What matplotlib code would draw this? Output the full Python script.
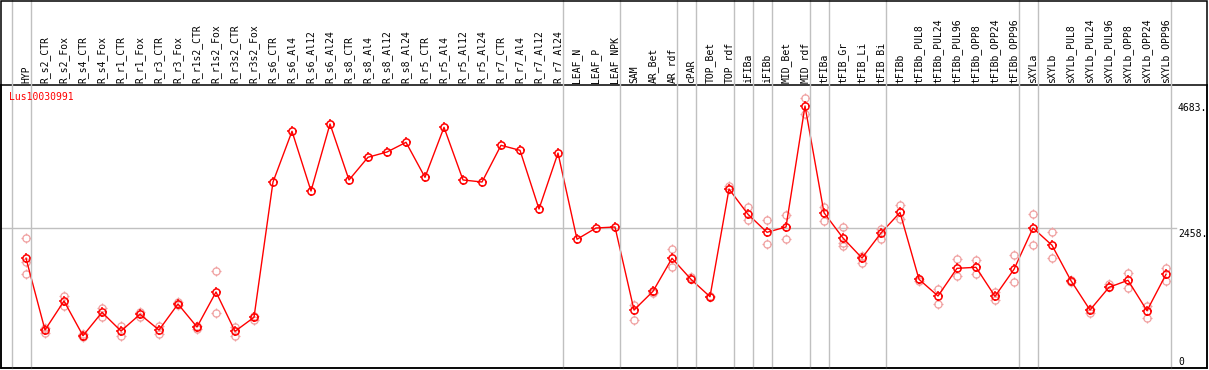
import matplotlib
matplotlib.use("Agg")
import matplotlib.pyplot as plt
from matplotlib.path import Path
from matplotlib.lines import Line2D
from matplotlib.patches import Rectangle
import matplotlib.transforms as mtransforms
import numpy as np

series_name = "Lus10030991"

categories = [
    "HYP", "R_s2_CTR", "R_s2_Fox", "R_s4_CTR", "R_s4_Fox", "R_r1_CTR", "R_r1_Fox",
    "R_r3_CTR", "R_r3_Fox", "R_r1s2_CTR", "R_r1s2_Fox", "R_r3s2_CTR", "R_r3s2_Fox",
    "R_s6_CTR", "R_s6_Al4", "R_s6_Al12", "R_s6_Al24", "R_s8_CTR", "R_s8_Al4",
    "R_s8_Al12", "R_s8_Al24", "R_r5_CTR", "R_r5_Al4", "R_r5_Al12", "R_r5_Al24",
    "R_r7_CTR", "R_r7_Al4", "R_r7_Al12", "R_r7_Al24", "LEAF_N", "LEAF_P", "LEAF_NPK",
    "SAM", "AR_Bet", "AR_rdf", "cPAR", "TOP_Bet", "TOP_rdf", "iFIBa", "iFIBb",
    "MID_Bet", "MID_rdf", "tFIBa", "tFIB_Gr", "tFIB_Li", "tFIB_Bi", "tFIBb",
    "tFIBb_PUL8", "tFIBb_PUL24", "tFIBb_PUL96", "tFIBb_OPP8", "tFIBb_OPP24",
    "tFIBb_OPP96", "sXYLa", "sXYLb", "sXYLb_PUL8", "sXYLb_PUL24", "sXYLb_PUL96",
    "sXYLb_OPP8", "sXYLb_OPP24", "sXYLb_OPP96",
]

mean_values = [
    1923, 657, 1169, 556, 969, 639, 934, 657, 1116, 710, 1328, 634, 881,
    3270, 4166, 3111, 4295, 3306, 3707, 3800, 3971, 3353, 4236, 3306, 3270,
    3918, 3830, 2794, 3782, 2259, 2458, 2476,
    1010, 1340, 1923, 1552, 1245, 3147, 2700, 2382, 2476, 4612, 2728, 2281,
    1928, 2370, 2732, 1552, 1257, 1746, 1764, 1252, 1729, 2458, 2153, 1527,
    1010, 1411, 1535, 998, 1640,
]

replicates = [
    [2276, 1853, 1641], [687, 599], [1263, 1081], [595, 533], [1051, 881],
    [728, 556], [969, 881], [728, 586], [1151, 1098], [728, 680], [1693, 957],
    [715, 546], [904, 833],
    [], [], [], [], [], [], [], [], [], [], [], [], [], [], [], [], [], [], [],
    [1098, 833], [1305, 1330], [2087, 1764], [1588, 1552], [1235, 1255],
    [3194, 3147], [2824, 2594], [2594, 2170], [2682, 2259], [4748, 4471],
    [2829, 2582], [2476, 2188, 2146], [1964, 1840], [2446, 2269], [2864, 2612],
    [1522, 1560], [1386, 1111], [1911, 1610], [1888, 1651], [1328, 1181],
    [1976, 1499], [2711, 2158], [2382, 1923], [1505, 1540], [962, 1020],
    [1464, 1420], [1663, 1393], [1086, 869], [1757, 1527],
]

group_boundaries = [-0.75, 0.25, 28.25, 31.25, 34.25, 35.25, 37.25, 38.25, 39.25,
                    41.25, 42.25, 45.25, 52.25, 53.25, 60.25]
y_ticks = [4683, 2458, 0]
y_tick_labels = ["4683.", "2458.", "0"]

W, H = 1209, 370
fig = plt.figure(figsize=(W / 100, H / 100), dpi=100)
fig.patch.set_facecolor("white")

ax_left, ax_right, ax_top, ax_bottom = 1, 1207, 85, 368
ax = fig.add_axes([ax_left / W, 1 - ax_bottom / H, (ax_right - ax_left) / W,
                   (ax_bottom - ax_top) / H])
ax.set_xlim(-25 / 19, 1181 / 19)
ax.set_ylim(-14, 4983)
ax.set_xticks([])
ax.set_yticks([])
for s in ax.spines.values():
    s.set_linewidth(1.1)
    s.set_color("black")

grid_col = "#c0c0c0"
mono = "DejaVu Sans Mono"
fs = 7.0

# vertical group lines spanning whole figure
trans_xf = mtransforms.blended_transform_factory(ax.transData, fig.transFigure)
for b in group_boundaries:
    fig.add_artist(Line2D([b, b], [1 - ax_bottom / H, 1], transform=trans_xf,
                          color=grid_col, lw=1.0, zorder=0.5))

# horizontal gridline at 2458
ax.plot([-25 / 19, 60.55], [2458, 2458], color=grid_col, lw=1.0, zorder=1)

# tick-only marker (four short spokes outside the circle)
tverts, tcodes = [], []
for dx, dy in [(0, 1), (0, -1), (1, 0), (-1, 0)]:
    tverts += [(dx * 0.68, dy * 0.68), (dx * 1.0, dy * 1.0)]
    tcodes += [Path.MOVETO, Path.LINETO]
tick_path = Path(tverts, tcodes)

CIRC_MS = 5.2   # points (~7 px)
TICK_MS = 7.4   # points (~10 px)

x = np.arange(len(categories))


def draw_markers(xs, ys, color, lw, z):
    ax.plot(xs, ys, linestyle="none", marker="o", markersize=CIRC_MS,
            markerfacecolor="none", markeredgecolor=color, markeredgewidth=lw,
            zorder=z)
    ax.plot(xs, ys, linestyle="none", marker=tick_path, markersize=TICK_MS,
            markerfacecolor="none", markeredgecolor=color, markeredgewidth=lw,
            zorder=z)


# replicates
for i, reps in enumerate(replicates):
    if reps:
        draw_markers([i] * len(reps), reps, "#f0a0a0", 0.9, 2)

ax.plot(x, mean_values, color="#ff0000", lw=1.0, zorder=3)
draw_markers(x, mean_values, "#ff0000", 1.1, 4)

# category labels (rotated)
for i, c in enumerate(categories):
    ax.text(i, 1 - 83 / H, c, transform=trans_xf, rotation=90, ha="center",
            va="bottom", fontsize=fs, family=mono, color="black", clip_on=False)

# series name
fig.text(9 / W, 1 - 92 / H, series_name, color="#ff0000", fontsize=fs,
         family=mono, ha="left", va="top")

# right value labels
trans_fy = mtransforms.blended_transform_factory(fig.transFigure, ax.transData)
for v, lab in zip(y_ticks, y_tick_labels):
    if v == 0:
        ax.text(1178 / W, v, lab, transform=trans_fy, ha="left", va="bottom",
                fontsize=fs, family=mono, clip_on=False)
    else:
        ax.text(1178 / W, v - 15, lab, transform=trans_fy, ha="left", va="top",
                fontsize=fs, family=mono, clip_on=False)

# outer frame
fig.add_artist(Rectangle((0.5 / W, 1 - ax_bottom / H), (ax_right - 0.5) / W,
                         (ax_bottom - 0.5) / H, transform=fig.transFigure,
                         fill=False, edgecolor="black", lw=1.1, zorder=10))

fig.savefig("out.png", dpi=100, facecolor="white")
